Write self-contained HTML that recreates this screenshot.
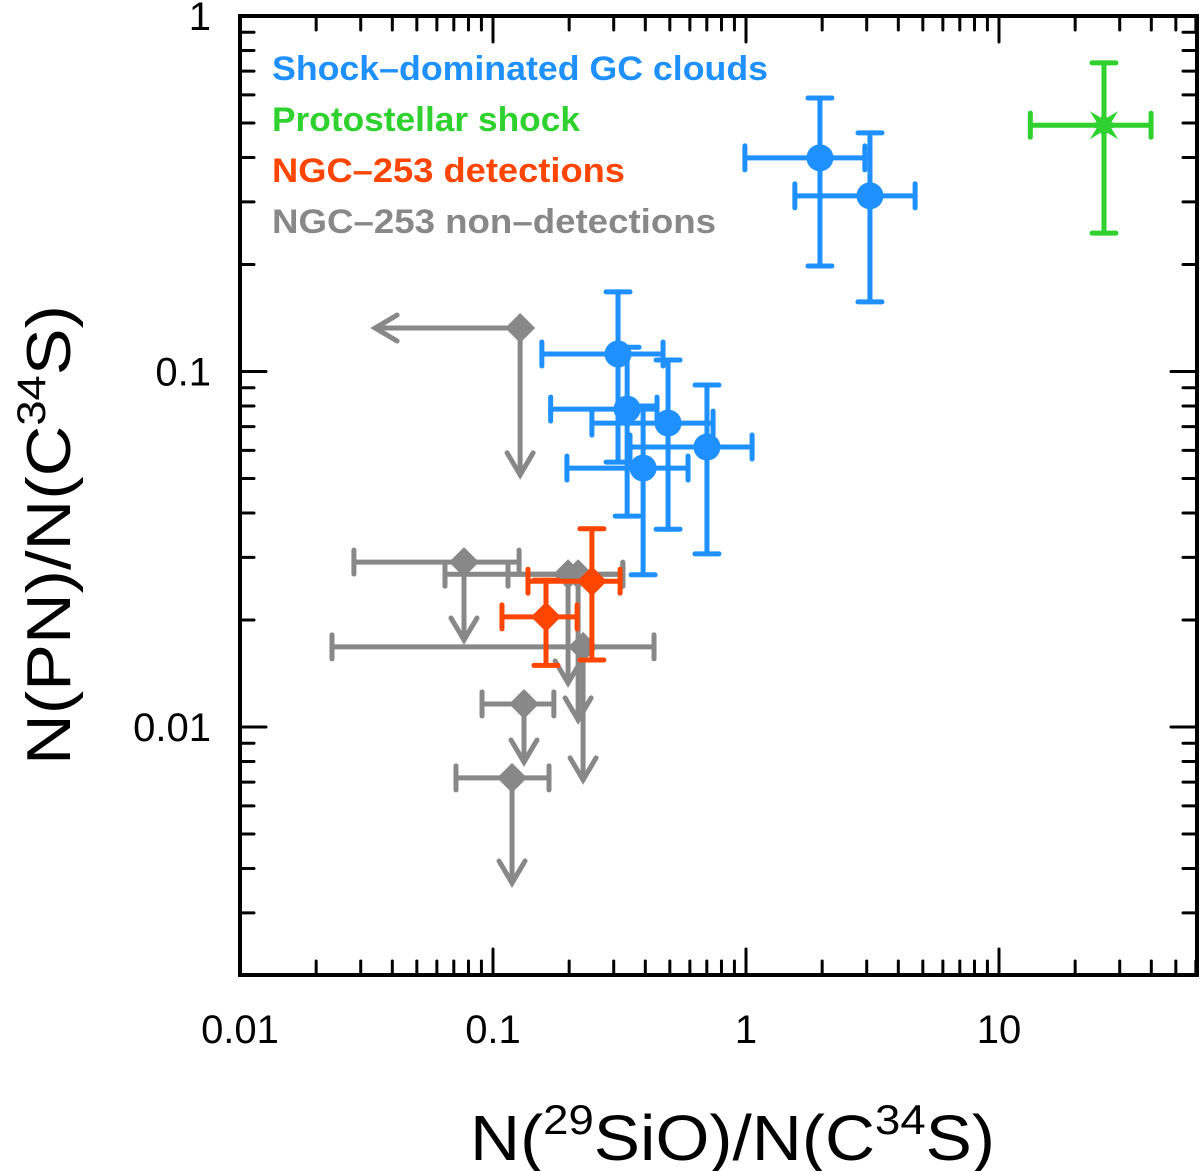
<!DOCTYPE html>
<html><head><meta charset="utf-8"><style>
html,body{margin:0;padding:0;background:#fff}
svg{display:block}
text{font-family:"Liberation Sans","DejaVu Sans",sans-serif}
</style></head><body>
<svg id="chart" width="1200" height="1171" viewBox="0 0 1200 1171" xmlns="http://www.w3.org/2000/svg">
<g id="marks"></g>
<g id="axes"></g>
<g font-weight="bold" font-size="34">
<text x="272" y="80" fill="#1e90ff" textLength="496" lengthAdjust="spacingAndGlyphs">Shock–dominated GC clouds</text>
<text x="272" y="131" fill="#2ed12e" textLength="308" lengthAdjust="spacingAndGlyphs">Protostellar shock</text>
<text x="272" y="182" fill="#ff4500" textLength="353" lengthAdjust="spacingAndGlyphs">NGC–253 detections</text>
<text x="272" y="233" fill="#888888" textLength="444" lengthAdjust="spacingAndGlyphs">NGC–253 non–detections</text>
</g>
<text x="470" y="1160" font-size="64" textLength="525" lengthAdjust="spacingAndGlyphs">N(<tspan font-size="42" dy="-26">29</tspan><tspan dy="26">SiO)/N(C</tspan><tspan font-size="42" dy="-26">34</tspan><tspan dy="26">S)</tspan></text>
<text transform="translate(70,765) rotate(-90)" font-size="62" textLength="460" lengthAdjust="spacingAndGlyphs">N(PN)/N(C<tspan font-size="40" dy="-25">34</tspan><tspan dy="25">S)</tspan></text>
</svg>
<script>
// Shock-dominated GC clouds
const blueX   = [1.96, 3.09, 0.312, 0.339, 0.492, 0.701, 0.392];
const blueXlo = [0.99, 1.56, 0.156, 0.169, 0.246, 0.348, 0.196];
const blueXhi = [2.95, 4.66, 0.47, 0.445, 0.741, 1.057, 0.590];
const blueY   = [0.399, 0.312, 0.112, 0.0784, 0.0716, 0.0613, 0.0535];
const blueYlo = [0.198, 0.157, 0.0556, 0.0392, 0.0360, 0.0307, 0.0268];
const blueYhi = [0.588, 0.469, 0.1675, 0.117, 0.1077, 0.0916, 0.080];
// Protostellar shock
const greenX=[26.0], greenXlo=[13.3], greenXhi=[39.9];
const greenY=[0.493], greenYlo=[0.245], greenYhi=[0.738];
// NGC-253 detections
const redX=[0.162, 0.246], redXlo=[0.1085, 0.1375], redXhi=[0.215, 0.318];
const redY=[0.0204, 0.0257], redYlo=[0.0149, 0.01543], redYhi=[0.0259, 0.0361];
// NGC-253 non-detections (upper limits)
const grayX   = [0.0768, 0.198, 0.217, 0.227, 0.1326, 0.1189];
const grayXlo = [0.0282, 0.0646, 0.1146, 0.0231, 0.0905, 0.0714];
const grayXhi = [0.1268, 0.326, 0.326, 0.433, 0.174, 0.1665];
const grayY   = [0.0291, 0.0269, 0.0269, 0.0168, 0.01161, 0.00719];
const grayYtip= [0.01757, 0.0133, 0.01047, 0.0071, 0.00797, 0.00364];
// Point with upper limits on both axes
const limX=[0.128], limY=[0.1325], limXtip=[0.0342], limYtip=[0.0512];
const xTickLabels=["0.01","0.1","1","10"], xTickVals=[0.01,0.1,1,10];
const yTickLabels=["1","0.1","0.01"], yTickVals=[1,0.1,0.01];

const L=240,R=1197,T=16,B=975;
const xs=v=>240+253*(Math.log10(v)+2);
const ys=v=>16-355.5*Math.log10(v);
const NS="http://www.w3.org/2000/svg";
const marks=document.getElementById('marks'), axes=document.getElementById('axes');
function mk(tag,attrs,parent){const e=document.createElementNS(NS,tag);for(const k in attrs)e.setAttribute(k,attrs[k]);parent.appendChild(e);return e;}
function line(g,x1,y1,x2,y2,c,w){return mk('line',{x1,y1,x2,y2,stroke:c,'stroke-width':w||5,'stroke-linecap':'round'},g);}
function errbars(g,x,y,xlo,xhi,ylo,yhi,c){
  const px=xs(x),py=ys(y),cap=12;
  if(xlo!=null){line(g,xs(xlo),py,xs(xhi),py,c);line(g,xs(xlo),py-cap,xs(xlo),py+cap,c);line(g,xs(xhi),py-cap,xs(xhi),py+cap,c);}
  if(ylo!=null){line(g,px,ys(ylo),px,ys(yhi),c);line(g,px-cap,ys(ylo),px+cap,ys(ylo),c);line(g,px-cap,ys(yhi),px+cap,ys(yhi),c);}
}
function arrowDown(g,px,py,ty,c){line(g,px,py,px,ty,c);mk('polyline',{points:`${px-13},${ty-22} ${px},${ty} ${px+13},${ty-22}`,fill:'none',stroke:c,'stroke-width':5,'stroke-linecap':'round'},g);}
function arrowLeft(g,px,py,tx,c){line(g,px,py,tx,py,c);mk('polyline',{points:`${tx+22},${py-13} ${tx},${py} ${tx+22},${py+13}`,fill:'none',stroke:c,'stroke-width':5,'stroke-linecap':'round'},g);}
function diamond(g,px,py,c,s){return mk('polygon',{points:`${px},${py-s} ${px+s},${py} ${px},${py+s} ${px-s},${py}`,fill:c},g);}

// gray
const gGray=mk('g',{},marks);


limX.forEach((v,i)=>{const px=xs(v),py=ys(limY[i]);
  arrowLeft(gGray,px,py,xs(limXtip[i]),'#888');arrowDown(gGray,px,py,ys(limYtip[i]),'#888');
  const d=diamond(gGray,px,py,'#888',15);
  
  });
grayX.forEach((v,i)=>{errbars(gGray,v,grayY[i],grayXlo[i],grayXhi[i],null,null,'#888');
  arrowDown(gGray,xs(v),ys(grayY[i]),ys(grayYtip[i]),'#888');
  const d=diamond(gGray,xs(v),ys(grayY[i]),'#888',15);
  
  });
// red
const gRed=mk('g',{},marks);


redX.forEach((v,i)=>{errbars(gRed,v,redY[i],redXlo[i],redXhi[i],redYlo[i],redYhi[i],'#ff4500');
  const d=diamond(gRed,xs(v),ys(redY[i]),'#ff4500',15);
  
  });
// blue
const gBlue=mk('g',{},marks);


blueX.forEach((v,i)=>{errbars(gBlue,v,blueY[i],blueXlo[i],blueXhi[i],blueYlo[i],blueYhi[i],'#1e90ff');});
blueX.forEach((v,i)=>{const c=mk('circle',{cx:xs(v),cy:ys(blueY[i]),r:13.5,fill:'#1e90ff'},gBlue);
  
  });
// green
const gGreen=mk('g',{},marks);


greenX.forEach((v,i)=>{errbars(gGreen,v,greenY[i],greenXlo[i],greenXhi[i],greenYlo[i],greenYhi[i],'#2ed12e');
  const px=xs(v),py=ys(greenY[i]);let pts=[];
  for(let k=0;k<16;k++){const a=k*Math.PI/8-Math.PI/2,r=k%2?8:20;pts.push((px+r*Math.cos(a)).toFixed(1)+','+(py+r*Math.sin(a)).toFixed(1));}
  const s=mk('polygon',{points:pts.join(' '),fill:'#2ed12e'},gGreen);
  
  });

// axes frame
const fr=mk('rect',{x:L,y:T,width:R-L,height:B-T,fill:'none',stroke:'#000','stroke-width':4},axes);


for(let e=-2;e<=1;e++){for(let m=1;m<10;m++){const v=m*Math.pow(10,e);const px=xs(v);if(px>R)break;
  const len=m===1?26:14;line(axes,px,B,px,B-len,'#000',3);line(axes,px,T,px,T+len,'#000',3);}}
for(let e=-3;e<=0;e++){for(let m=1;m<10;m++){const v=m*Math.pow(10,e);const py=ys(v);if(py<T-1||py>B+1)continue;
  const len=m===1?26:14;line(axes,L,py,L+len,py,'#000',3);line(axes,R,py,R-len,py,'#000',3);}}
xTickVals.forEach((v,i)=>{const t=mk('text',{x:xs(v),y:1043,'font-size':40,'text-anchor':'middle'},axes);t.textContent=xTickLabels[i];
  
  });
yTickVals.forEach((v,i)=>{const t=mk('text',{x:211,y:ys(v)+14,'font-size':40,'text-anchor':'end'},axes);t.textContent=yTickLabels[i];
  
  });
</script>
</body></html>
